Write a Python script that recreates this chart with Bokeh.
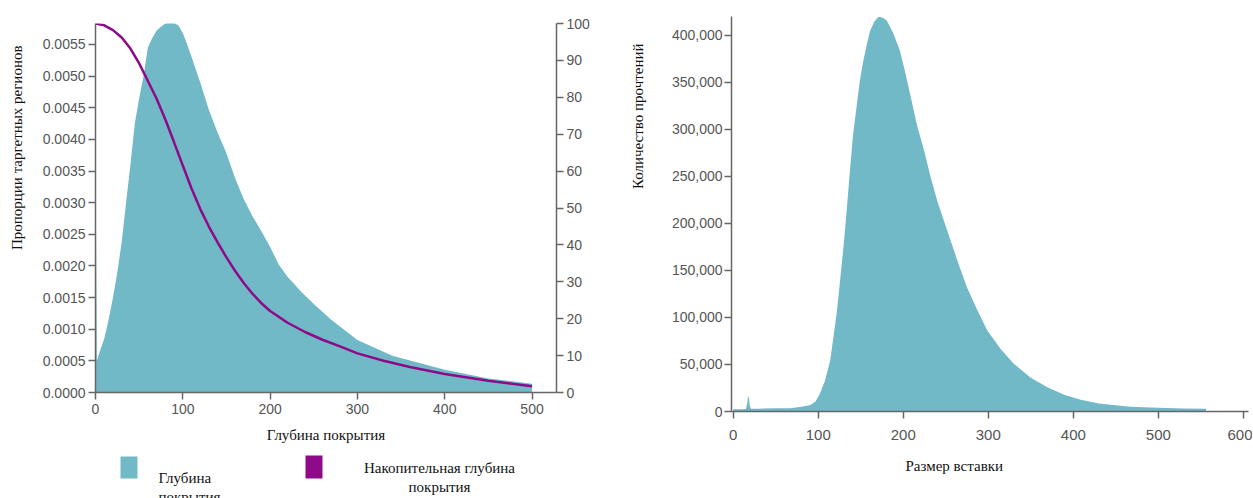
from bokeh.plotting import figure
from bokeh.models import (Range1d, LinearAxis, FixedTicker, PrintfTickFormatter,
                          NumeralTickFormatter, Title)
from bokeh.layouts import row, column
from bokeh.core.properties import value
from bokeh.embed import file_html
from bokeh.resources import INLINE

# ---------------- data: left chart (coverage depth) ----------------
depth = [0, 0.5, 1.5, 5, 10, 15, 20, 25, 30, 35, 40, 45, 50, 55, 60, 65, 70, 75, 80, 85,
         90, 95, 100, 105, 110, 120, 130, 140, 150, 160, 170, 180, 190, 200, 210,
         220, 235, 250, 270, 300, 340, 400, 450, 500]
depth_prop = [0.0030, 0.0028, 0.00050, 0.00065, 0.00085, 0.00115, 0.00150, 0.00190,
              0.00238, 0.00300, 0.00360, 0.00425, 0.00465, 0.00500, 0.00545, 0.00560,
              0.00572, 0.00578, 0.00583, 0.00586, 0.00584, 0.00580, 0.00568, 0.00550,
              0.00530, 0.00490, 0.00446, 0.00410, 0.00378, 0.00338, 0.00305, 0.00278,
              0.00255, 0.00230, 0.00202, 0.00183, 0.00160, 0.00140, 0.00115, 0.00083,
              0.00058, 0.00036, 0.00022, 0.00014]

cum_depth = [0, 10, 20, 30, 40, 50, 60, 70, 80, 90, 100, 110, 120, 130, 140, 150, 160,
             170, 180, 190, 200, 220, 240, 260, 280, 300, 330, 360, 400, 450, 500]
cum_pct = [100, 99.5, 98.2, 96.2, 93.2, 89.2, 84.4, 79.6, 74.0, 67.8, 61.5, 55.3, 49.7,
           44.9, 40.6, 36.6, 32.9, 29.6, 26.7, 24.2, 22.1, 18.9, 16.4, 14.3, 12.5, 10.6,
           8.6, 6.9, 5.0, 3.2, 1.7]

left_x_ticks = [0, 100, 200, 300, 400, 500]
left_y_ticks = [0.0, 0.0005, 0.0010, 0.0015, 0.0020, 0.0025, 0.0030, 0.0035, 0.0040,
                0.0045, 0.0050, 0.0055]
right_y_ticks = [0, 10, 20, 30, 40, 50, 60, 70, 80, 90, 100]

legend_labels = [["Глубина", "покрытия"], ["Накопительная глубина", "покрытия"]]

# ---------------- data: right chart (insert size) ----------------
insert_size = [0, 10, 15, 16.5, 17.5, 18.5, 19.5, 21, 30, 50, 67, 80, 91, 97, 102, 108,
               114, 118, 122, 126, 130, 134, 137.6, 141, 145.5, 149, 153, 157, 161, 166,
               171, 176, 180.6, 188, 196, 202, 208, 216, 224.4, 232, 240, 255.6, 265,
               275, 287, 299, 315, 330, 350, 369.5, 390, 408.7, 430, 467, 500, 530, 556]
read_count = [2500, 2500, 2600, 9000, 16000, 15000, 6000, 2800, 3000, 3500, 3500, 5000,
              7000, 11000, 19000, 33000, 54000, 80000, 107000, 142000, 178000, 220000,
              260000, 295000, 327000, 352000, 373000, 390000, 405000, 415000, 420000,
              419000, 416000, 403000, 384000, 362000, 338000, 305000, 278000, 250000,
              224000, 182000, 157000, 132000, 108000, 86000, 66000, 50700, 36000, 25900,
              17500, 12500, 8500, 5000, 4000, 3300, 3000]
ins_x_ticks = [0, 100, 200, 300, 400, 500, 600]
ins_y_ticks = [0, 50000, 100000, 150000, 200000, 250000, 300000, 350000, 400000]

TEAL = "#72b9c8"
PURPLE = "#8e0a88"
AXIS_COL = "#666666"
TICK_FONT = "Liberation Sans"
SERIF = "Liberation Serif"


def style_axis(ax, ticks, fmt=None, size="14px"):
    ax.ticker = FixedTicker(ticks=ticks)
    if fmt is not None:
        ax.formatter = fmt
    ax.axis_line_color = AXIS_COL
    ax.axis_line_width = 1.5
    ax.major_tick_line_color = AXIS_COL
    ax.major_tick_line_width = 1.5
    ax.major_tick_in = 0
    ax.major_tick_out = 7
    ax.minor_tick_line_color = None
    ax.major_label_text_font = TICK_FONT
    ax.major_label_text_font_size = size
    ax.major_label_text_color = "#555555"
    ax.axis_label_text_font = SERIF
    ax.axis_label_text_font_style = "normal"
    ax.axis_label_text_font_size = "15px"
    ax.axis_label_text_color = "#111111"


def side_title(text, offset, align="right", standoff=0):
    return Title(text=text, align=align, offset=offset, standoff=standoff,
                 text_font=SERIF, text_font_size="15px", text_font_style="normal",
                 text_color="#111111")


def spacer(size):
    return Title(text=" ", text_font_size="2px", standoff=size)


# ---------------- left figure ----------------
p1 = figure(width=620, height=450, output_backend="svg", toolbar_location=None,
            x_range=Range1d(0, 528), y_range=Range1d(0, 0.005831),
            min_border_left=95, min_border_right=64, min_border_top=23,
            min_border_bottom=58)
p1.outline_line_color = None
p1.grid.visible = False
p1.extra_y_ranges = {"pct": Range1d(0, 100)}

p1.varea(x=depth, y1=0, y2=depth_prop, fill_color=TEAL)
p1.line(x=cum_depth, y=cum_pct, y_range_name="pct", line_color=PURPLE, line_width=2.5)

style_axis(p1.xaxis[0], left_x_ticks)
p1.xaxis[0].axis_label = "Глубина покрытия"
p1.xaxis[0].axis_label_standoff = 10
p1.xaxis[0].major_label_standoff = 4
style_axis(p1.yaxis[0], left_y_ticks, PrintfTickFormatter(format="%.4f"))
p1.yaxis[0].major_label_standoff = 3

ax_r = LinearAxis(y_range_name="pct")
style_axis(ax_r, right_y_ticks)
ax_r.major_label_standoff = 3
p1.add_layout(ax_r, "right")

p1.add_layout(spacer(11), "left")
p1.add_layout(side_title("Пропорции таргетных регионов", 22), "left")

# ---------------- legend strip (aligned with left frame) ----------------
lg = figure(width=620, height=48, output_backend="svg", toolbar_location=None,
            x_range=Range1d(0, 461), y_range=Range1d(48, 0),
            min_border_left=95, min_border_right=64, min_border_top=0,
            min_border_bottom=0)
lg.outline_line_color = None
lg.grid.visible = False
lg.axis.visible = False
lg.quad(left=[25, 210], right=[42, 227], top=[6, 5], bottom=[28, 28],
        fill_color=[TEAL, PURPLE], line_color=None)
lg.text(x=[63, 63], y=[27, 46], text=legend_labels[0], text_align="left",
        text_baseline="middle", text_font=value(SERIF), text_font_size="15px",
        text_color="#111111")
lg.text(x=[344, 344], y=[17, 36], text=legend_labels[1], text_align="center",
        text_baseline="middle", text_font=value(SERIF), text_font_size="15px",
        text_color="#111111")

# ---------------- right figure ----------------
p2 = figure(width=632, height=498, output_backend="svg", toolbar_location=None,
            x_range=Range1d(-2, 606), y_range=Range1d(0, 420200),
            min_border_left=111, min_border_right=4, min_border_top=16,
            min_border_bottom=87)
p2.outline_line_color = None
p2.grid.visible = False
p2.varea(x=insert_size, y1=0, y2=read_count, fill_color=TEAL)
style_axis(p2.xaxis[0], ins_x_ticks, size="15px")
p2.xaxis[0].major_label_standoff = 11
style_axis(p2.yaxis[0], ins_y_ticks, NumeralTickFormatter(format="0,0"))
p2.yaxis[0].major_label_standoff = 2

p2.add_layout(spacer(19), "left")
p2.add_layout(side_title("Количество прочтений", 27), "left")
p2.add_layout(side_title("Размер вставки", 174, align="left", standoff=26), "below")

layout = row(column(p1, lg), p2)
open("out.html", "w").write(file_html(layout, INLINE))
